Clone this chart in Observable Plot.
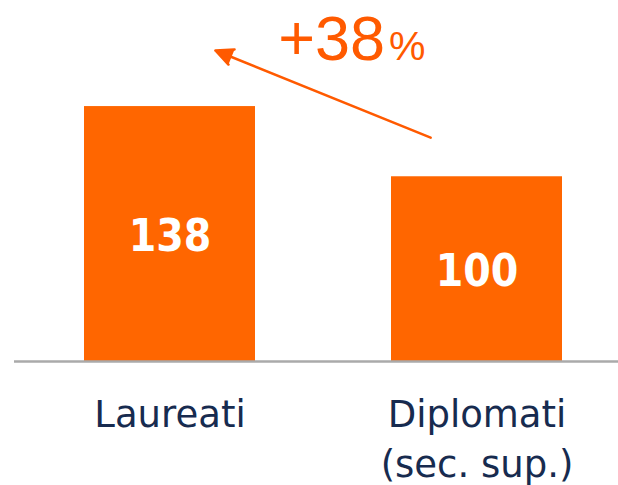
<!DOCTYPE html>
<html><head><meta charset="utf-8">
<script src="https://cdn.jsdelivr.net/npm/d3@7"></script>
<script src="https://cdn.jsdelivr.net/npm/@observablehq/plot@0.6"></script>
<style>html,body{margin:0;padding:0;background:#fff;overflow:hidden}</style>
</head><body><div id="chart"></div>
<script>
// Data
const categories = ["Laureati", "Diplomati"];
const categoryLabels = ["Laureati", "Diplomati\n(sec. sup.)"];
const values = [138, 100];
// Annotation arrow (from Diplomati towards Laureati), in value units
const arrowFrom = {category: "Diplomati", value: 111};
const arrowTo = {category: "Laureati", value: 178.3};
const annotationAt = {category: "Diplomati", value: 163};

const data = categories.map((c, i) => ({category: c, label: categoryLabels[i], value: values[i]}));
const pct = Math.round((values[0] / values[1] - 1) * 100);

const orange = "#ff6600";
const accent = "#ff5a00";
const navy = "#172b4f";

const chart = Plot.plot({
  width: 618,
  height: 485,
  marginLeft: 14,
  marginRight: 0,
  marginTop: 10,
  marginBottom: 124,
  style: {background: "#fff", fontFamily: "DejaVu Sans", overflow: "visible"},
  x: {domain: categories, paddingInner: 0.443, paddingOuter: 0.205, align: 0.556, axis: null},
  y: {domain: [0, 190], axis: null},
  marks: [
    Plot.barY(data, {x: "category", y: "value", fill: orange}),
    Plot.ruleY([0], {stroke: "#aaaaaa", strokeWidth: 2.5}),
    Plot.text(data, {x: "category", y: d => d.value / 2, text: d => String(d.value),
      fill: "#fff", fontSize: 44, fontWeight: "bold", fontFamily: "DejaVu Sans Condensed", dy: 3}),
    Plot.text(data, {x: "category", y: 0, text: "label", lineAnchor: "top", dy: 31,
      fontSize: 37, lineHeight: 1.33, fill: navy, fontFamily: "DejaVu Sans"}),
    Plot.arrow([{from: arrowFrom, to: arrowTo}], {
      x1: d => d.from.category, y1: d => d.from.value,
      x2: d => d.to.category, y2: d => d.to.value,
      stroke: accent, fill: accent, strokeWidth: 2.5, headLength: 11.5, headAngle: 50,
      insetStart: 50, insetEnd: 49
    }),
    Plot.text([annotationAt], {x: "category", y: "value", text: () => "+" + pct,
      textAnchor: "end", lineAnchor: "bottom", dx: -92, fontSize: 63,
      fontFamily: "Liberation Sans", fill: accent, ariaLabel: "pct-number"}),
    Plot.text([annotationAt], {x: "category", y: "value", text: () => "%",
      textAnchor: "start", lineAnchor: "bottom", dx: -88, fontSize: 41,
      fontFamily: "Liberation Sans", fill: accent})
  ]
});
// tighten the annotation number's letter spacing
chart.querySelectorAll('g[aria-label="pct-number"] text').forEach(t => t.setAttribute("letter-spacing", "-5"));
document.getElementById("chart").appendChild(chart);
</script>
</body></html>
